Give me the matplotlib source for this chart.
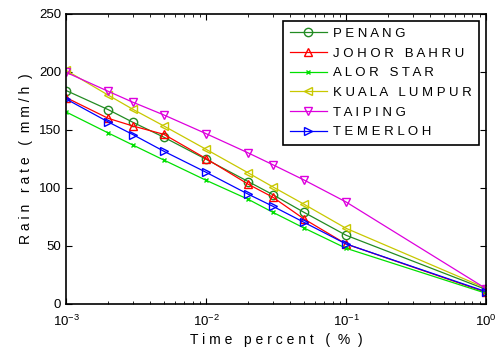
import numpy as np
import matplotlib
matplotlib.use("Agg")
import matplotlib.pyplot as plt

plt.rcParams['font.family'] = ['Liberation Sans', 'DejaVu Sans']

# time percent (%)
time_pct = [0.001, 0.002, 0.003, 0.005, 0.01, 0.02, 0.03, 0.05, 0.1, 1.0]

# rain rate (mm/h) per station
penang = [184, 167.5, 156.6, 143.7, 124.7, 105.5, 94.2, 79, 59.2, 12.5]
johor_bahru = [177.9, 160, 153.4, 146.2, 125.3, 103.2, 92, 73.3, 51.7, 10]
alor_star = [165.5, 147.4, 137, 124, 106.6, 90.2, 79, 65.5, 48, 9.2]
kuala_lumpur = [201.4, 180, 167.8, 153.4, 133.3, 113, 100.9, 86, 65.2, 13.5]
taiping = [199.7, 183.3, 173.9, 162.9, 146.8, 130.2, 120, 106.9, 87.9, 13.2]
temerloh = [176.7, 156.9, 146, 131.6, 113.5, 94.6, 84.2, 70.4, 51.7, 10.6]

series = [
    ("P E N A N G", penang, '#228b22', 'o'),
    ("J O H O R   B A H R U", johor_bahru, '#ff0000', '^'),
    ("A L O R   S T A R", alor_star, '#00e000', 'x'),
    ("K U A L A   L U M P U R", kuala_lumpur, '#c8c800', '<'),
    ("T A I P I N G", taiping, '#dd00dd', 'v'),
    ("T E M E R L O H", temerloh, '#0000ff', '>'),
]

fig = plt.figure(figsize=(4.97, 3.58), dpi=100)
ax = fig.add_axes([0.133, 0.151, 0.845, 0.81])

for name, vals, col, mk in series:
    ms = 3 if mk == 'x' else 6
    ax.plot(time_pct, vals, color=col, marker=mk, markersize=ms,
            markerfacecolor='none', markeredgecolor=col, linewidth=0.9,
            label=name)

ax.set_xscale('log')
ax.set_xlim(1e-3, 1)
ax.set_ylim(0, 250)
ax.set_yticks([0, 50, 100, 150, 200, 250])

ax.tick_params(which='both', direction='in', top=True, right=True, labelsize=9.5)
ax.tick_params(which='major', length=4)
ax.tick_params(which='minor', length=2)
ax.tick_params(axis='x', pad=7)
for s in ax.spines.values():
    s.set_linewidth(1.2)

ax.set_xlabel("T i m e   p e r c e n t   (  %  )", fontsize=10, labelpad=3)
ax.set_ylabel("R a i n   r a t e   (  m m / h  )", fontsize=10, labelpad=4)

leg = ax.legend(loc='upper right', fontsize=9.5, handlelength=2.8,
                fancybox=False, framealpha=1, edgecolor='black',
                borderaxespad=0.55, labelspacing=0.56, handletextpad=0.5,
                borderpad=0.5)
leg.get_frame().set_linewidth(1.2)

fig.savefig("out.png", dpi=100)
